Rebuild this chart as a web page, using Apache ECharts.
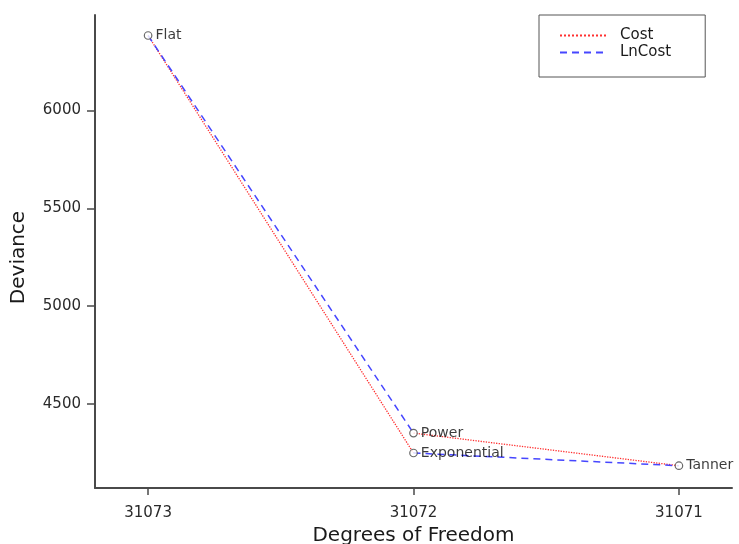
<!DOCTYPE html>
<html>
<head>
<meta charset="utf-8">
<script src="https://cdn.jsdelivr.net/npm/echarts@6/dist/echarts.min.js"></script>
<style>
  html, body { margin: 0; padding: 0; background: #ffffff; }
  #chart { width: 739px; height: 544px; }
</style>
</head>
<body>
<div id="chart"></div>
<script>
// Model fits: residual degrees of freedom vs. deviance
const models = ['Flat', 'Power', 'Exponential', 'Tanner'];
const degreesOfFreedom = [31073, 31072, 31072, 31071];
const deviance = [6384, 4350, 4248, 4183];

// Which models each series links, as separate line pieces
const costPaths = [['Flat', 'Exponential'], ['Power', 'Tanner']];
const lnCostPaths = [['Flat', 'Power'], ['Exponential', 'Tanner']];

// Axis ticks
const xTicks = [31073, 31072, 31071];
const yTicks = [4500, 5000, 5500, 6000];

const FONT = 'DejaVu Sans';

function pointOf(name) {
  const i = models.indexOf(name);
  return [degreesOfFreedom[i], deviance[i]];
}

function pathSeries(name, paths, lineStyle) {
  return paths.map(function (p) {
    return {
      name: name,
      type: 'line',
      data: p.map(pointOf),
      symbol: 'none',
      lineStyle: lineStyle,
      itemStyle: { color: lineStyle.color },
      z: 2,
      silent: true
    };
  });
}

const costStyle = { color: '#ff3030', width: 1.3, type: 'dotted' };
const lnCostStyle = { color: '#4646ff', width: 1.5, type: [7, 5] };

const plain = function (v) { return String(v); };

const chart = echarts.init(document.getElementById('chart'));
chart.setOption({
  animation: false,
  backgroundColor: '#ffffff',
  textStyle: { fontFamily: FONT },
  grid: { left: 95, right: 7, top: 15, bottom: 56, containLabel: false, outerBoundsMode: 'none' },
  legend: {
    orient: 'vertical',
    left: 539,
    top: 15,
    data: ['Cost', 'LnCost'],
    itemWidth: 46,
    itemHeight: 14,
    itemGap: 2,
    padding: [13, 34, 17, 20],
    borderColor: '#555555',
    borderWidth: 1,
    backgroundColor: '#ffffff',
    itemStyle: { opacity: 0 },
    textStyle: { fontFamily: FONT, fontSize: 15, color: '#1a1a1a', padding: [0, 0, 0, 9] },
    selectedMode: false
  },
  xAxis: {
    type: 'value',
    inverse: true,
    min: 31070.8,
    max: 31073.2,
    name: 'Degrees of Freedom',
    nameLocation: 'middle',
    nameGap: 34,
    nameTextStyle: { fontFamily: FONT, fontSize: 20, color: '#1a1a1a' },
    axisLine: { show: true, onZero: false, lineStyle: { color: '#4a4a4a', width: 2 } },
    axisTick: { show: true, length: 7, customValues: xTicks, lineStyle: { color: '#4a4a4a', width: 1.5 } },
    axisLabel: {
      customValues: xTicks,
      formatter: plain,
      margin: 18,
      fontFamily: FONT,
      fontSize: 15,
      color: '#2a2a2a'
    },
    splitLine: { show: false }
  },
  yAxis: {
    type: 'value',
    min: 4069,
    max: 6489,
    name: 'Deviance',
    nameLocation: 'middle',
    nameGap: 66,
    nameTextStyle: { fontFamily: FONT, fontSize: 20, color: '#1a1a1a', padding: [0, 12, 0, 0] },
    axisLine: { show: true, onZero: false, lineStyle: { color: '#4a4a4a', width: 2 } },
    axisTick: { show: true, length: 8, customValues: yTicks, lineStyle: { color: '#4a4a4a', width: 1.5 } },
    axisLabel: {
      customValues: yTicks,
      formatter: plain,
      margin: 14,
      fontFamily: FONT,
      fontSize: 15,
      color: '#2a2a2a'
    },
    splitLine: { show: false }
  },
  series: [].concat(
    pathSeries('Cost', costPaths, costStyle),
    pathSeries('LnCost', lnCostPaths, lnCostStyle),
    [{
      name: 'models',
      type: 'scatter',
      data: models.map(function (m, i) { return [degreesOfFreedom[i], deviance[i]]; }),
      symbol: 'circle',
      symbolSize: 7.5,
      itemStyle: { color: '#ffffff', borderColor: '#444444', borderWidth: 1.2 },
      label: {
        show: true,
        position: 'right',
        distance: 3,
        formatter: function (p) { return models[p.dataIndex]; },
        fontFamily: FONT,
        fontSize: 14,
        color: '#0a0a0a'
      },
      z: 5,
      silent: true
    }]
  )
});
</script>
</body>
</html>
